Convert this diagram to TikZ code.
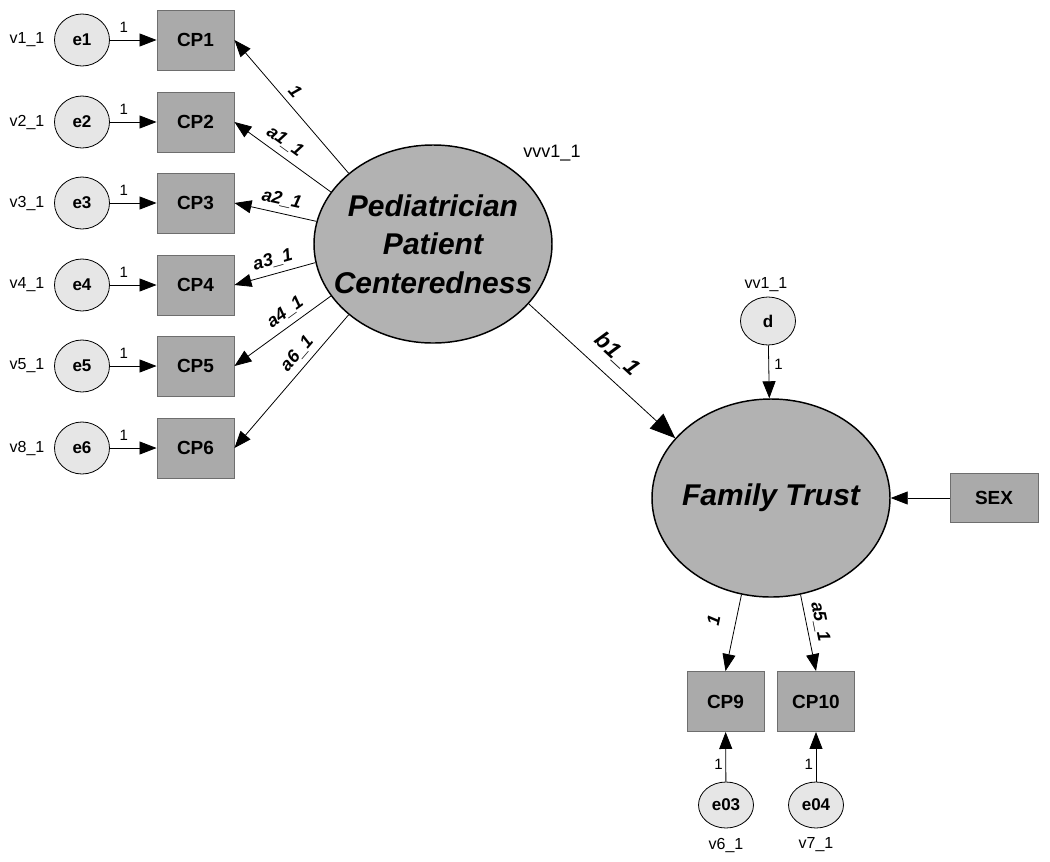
\documentclass[tikz,border=0pt]{standalone}
\usepackage{fontspec}
\setmainfont{Liberation Sans}
\usetikzlibrary{arrows.meta,shapes.geometric}

\definecolor{boxgray}{RGB}{170,170,170}
\definecolor{boxedge}{RGB}{110,110,110}
\definecolor{latgray}{RGB}{178,178,178}
\definecolor{errgray}{RGB}{230,230,230}

\tikzset{
  obs/.style={draw=boxedge, line width=0.7pt, fill=boxgray, minimum width=57.75pt, minimum height=45pt,
    inner sep=0pt, font=\fontsize{14.25}{16}\selectfont\bfseries},
  err/.style={ellipse, draw, line width=0.6pt, fill=errgray, minimum width=41.25pt, minimum height=39pt,
    inner sep=0pt, font=\fontsize{12.75}{15}\selectfont\bfseries},
  lat/.style={ellipse, draw, line width=1.1pt, fill=latgray, minimum width=178.5pt, minimum height=148.5pt,
    inner sep=0pt},
  lattext/.style={align=center, inner sep=0pt, font=\fontsize{22.5}{29}\selectfont\bfseries\itshape},
  reg/.style={-{Triangle[length=12.75pt,width=9.75pt]}, line width=0.6pt},
  wlab/.style={font=\fontsize{13.5}{16}\selectfont\bfseries\itshape, sloped, above=3.5pt, inner sep=1pt},
  one/.style={font=\fontsize{11.25}{13}\selectfont, inner sep=2pt},
  vlab/.style={font=\fontsize{12}{14}\selectfont, inner sep=0pt}
}

\begin{document}
\begin{tikzpicture}[x=0.75pt, y=-0.75pt]
    \useasboundingbox (0,0) rectangle (1050,861);
    % Latent variables
    \node[lat, label={[lattext]center:Pediatrician\\Patient\\Centeredness}] (ppc) at (433,244) {};
    \node[lat, label={[lattext]center:Family Trust}] (ft) at (771,498) {};
    \node[vlab, font=\fontsize{13.5}{16}\selectfont] (vvv) at (552,153) {vvv1\_1};
    % Indicators of the first factor
    \foreach \i/\y/\v/\ang/\w/\p in {1/40/v1\_1/140/1/0.55, 2/122/v2\_1/153/a1\_1/0.56,
        3/203/v3\_1/169/a2\_1/0.46, 4/285/v4\_1/189/a3\_1/0.48,
        5/366/v5\_1/207/a4\_1/0.39, 6/448/v8\_1/220/a6\_1/0.36} {
      \node[err] (e\i) at (82,\y) {e\i};
      \node[obs] (cp\i) at (195.5,\y) {CP\i};
      \node[vlab] (v\i) at (27,\y) {\v};
      \draw[reg] (e\i) -- node[one, above=3pt, pos=0.3] {1} (cp\i);
      \draw[reg] (ppc.\ang) -- node[wlab, pos=\p] {\w} (cp\i.east);
    }
    % Disturbance and covariate
    \node[err, minimum height=36pt] (d) at (768,321) {d};
    \node[vlab] (vv) at (766,285) {vv1\_1};
    \node[obs, minimum width=66pt, minimum height=36.75pt] (sex) at (994,498) {SEX};
    % Indicators of the second factor
    \node[obs] (cp9) at (725.5,701.5) {CP9};
    \node[obs] (cp10) at (816,701.5) {CP10};
    \node[err, minimum height=34.5pt] (e03) at (726,805) {e03};
    \node[err, minimum height=34.5pt] (e04) at (816,805) {e04};
    \node[vlab] (v6) at (726,845) {v6\_1};
    \node[vlab] (v7) at (816,845) {v7\_1};
    % Paths
    \draw[reg, -{Triangle[length=19pt,width=15pt]}] (ppc.328) --
      node[wlab, pos=0.5, above=5pt, font=\fontsize{17}{20}\selectfont\bfseries\itshape] {b1\_1} (ft.148);
    \draw[reg] (d) -- node[one, right=2pt, pos=0.35] {1} (ft);
    \draw[reg] (sex) -- (ft);
    \draw[reg] (ft.253) -- node[wlab, pos=0.4, above=7pt] {1} (cp9.north);
    \draw[reg] (ft.287) -- node[wlab, pos=0.39] {a5\_1} (cp10.north);
    \draw[reg] (e03) -- node[one, left, pos=0.35] {1} (cp9);
    \draw[reg] (e04) -- node[one, left, pos=0.35] {1} (cp10);
\end{tikzpicture}
\end{document}
